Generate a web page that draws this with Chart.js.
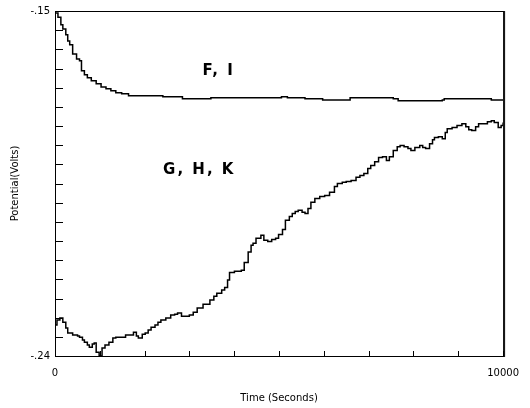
<!DOCTYPE html>
<html>
<head>
<meta charset="utf-8">
<script src="https://cdn.jsdelivr.net/npm/chart.js@4"></script>
<style>
  body { margin: 0; background: #fff; }
  #wrap { width: 530px; height: 408px; }
</style>
</head>
<body>
<div id="wrap"><canvas id="potentialChart"></canvas></div>
<script>
// ➤ Data (time in seconds, potential in volts)
const upperTimes = [0, 66, 131, 175, 241, 284, 328, 394, 481, 547, 591, 656, 722, 810, 919, 1028, 1138, 1247, 1357, 1488, 1641, 2079, 2407, 2779, 2844, 3435, 3479, 4485, 5054, 5186, 5579, 5973, 6520, 6586, 7330, 7549, 7658, 7833, 8643, 8686, 9518, 9737, 10000];
const upperValues = [-0.1505, -0.1516, -0.1536, -0.1547, -0.1562, -0.1578, -0.1588, -0.1612, -0.1625, -0.1630, -0.1656, -0.1666, -0.1674, -0.1682, -0.1690, -0.1698, -0.1703, -0.1708, -0.1713, -0.1716, -0.1721, -0.1721, -0.1724, -0.1724, -0.1729, -0.1729, -0.1726, -0.1726, -0.1724, -0.1726, -0.1729, -0.1732, -0.1732, -0.1726, -0.1726, -0.1729, -0.1734, -0.1734, -0.1732, -0.1729, -0.1729, -0.1732, -0.1732];

const lowerTimes = [0, 44, 109, 175, 241, 284, 394, 503, 547, 613, 656, 722, 766, 832, 875, 919, 985, 1050, 1116, 1204, 1291, 1357, 1488, 1575, 1641, 1751, 1816, 1860, 1947, 2013, 2079, 2144, 2232, 2298, 2363, 2473, 2582, 2670, 2735, 2823, 2888, 2998, 3085, 3173, 3304, 3457, 3545, 3611, 3720, 3786, 3851, 3895, 4004, 4158, 4223, 4311, 4376, 4420, 4486, 4595, 4661, 4748, 4836, 4923, 4989, 5077, 5142, 5230, 5295, 5361, 5427, 5514, 5580, 5646, 5711, 5799, 5908, 6018, 6127, 6236, 6302, 6411, 6499, 6608, 6718, 6805, 6893, 6980, 7046, 7134, 7221, 7309, 7396, 7462, 7549, 7637, 7702, 7790, 7877, 7943, 8031, 8140, 8206, 8271, 8359, 8425, 8468, 8556, 8643, 8709, 8753, 8862, 8972, 9081, 9168, 9234, 9300, 9387, 9453, 9562, 9650, 9737, 9803, 9891, 9956, 10000];
const lowerValues = [-0.2319, -0.2306, -0.2301, -0.2312, -0.2327, -0.2340, -0.2345, -0.2348, -0.2351, -0.2358, -0.2364, -0.2371, -0.2377, -0.2369, -0.2366, -0.2390, -0.2400, -0.2379, -0.2371, -0.2364, -0.2353, -0.2351, -0.2351, -0.2345, -0.2345, -0.2338, -0.2348, -0.2353, -0.2343, -0.2340, -0.2332, -0.2325, -0.2319, -0.2312, -0.2306, -0.2301, -0.2293, -0.2291, -0.2288, -0.2296, -0.2296, -0.2293, -0.2286, -0.2275, -0.2265, -0.2254, -0.2244, -0.2236, -0.2228, -0.2221, -0.2202, -0.2182, -0.2179, -0.2176, -0.2156, -0.2129, -0.2111, -0.2106, -0.2093, -0.2085, -0.2098, -0.2101, -0.2096, -0.2093, -0.2083, -0.2070, -0.2046, -0.2036, -0.2028, -0.2023, -0.2020, -0.2025, -0.2028, -0.2015, -0.1999, -0.1989, -0.1984, -0.1981, -0.1973, -0.1958, -0.1950, -0.1947, -0.1945, -0.1942, -0.1934, -0.1929, -0.1924, -0.1911, -0.1903, -0.1893, -0.1882, -0.1880, -0.1890, -0.1880, -0.1864, -0.1854, -0.1851, -0.1854, -0.1859, -0.1864, -0.1856, -0.1851, -0.1856, -0.1859, -0.1846, -0.1836, -0.1830, -0.1828, -0.1833, -0.1817, -0.1807, -0.1804, -0.1799, -0.1794, -0.1802, -0.1810, -0.1812, -0.1802, -0.1794, -0.1794, -0.1789, -0.1786, -0.1791, -0.1804, -0.1799, -0.1791];

const xTickLabels = ["0", "10000"];
const yTickLabels = ["-.24", "-.15"];

// curve labels: text with the data point they sit on
const curveLabels = [
    { text: "F, I", t: 3650, v: -0.1656 },
    { text: "G, H, K", t: 3220, v: -0.1916 }
];

const toPoints = (ts, vs) => ts.map((t, i) => ({ x: t, y: vs[i] }));

// ➤ Box frame, inward ticks and curve labels
const frameTicks = {
    id: "frameTicks",
    afterDatasetsDraw(chart) {
        const { ctx, chartArea: a, scales: { x, y } } = chart;
        ctx.save();
        ctx.strokeStyle = "#000";
        ctx.lineWidth = 1;
        ctx.strokeRect(a.left + 0.5, a.top + 0.5, a.right - a.left, a.bottom - a.top);
        ctx.beginPath();
        ctx.moveTo(a.right + 1.5, a.top);
        ctx.lineTo(a.right + 1.5, a.bottom + 1);
        y.ticks.forEach(t => {
            const py = Math.round(y.getPixelForValue(t.value)) + 0.5;
            ctx.moveTo(a.left, py);
            ctx.lineTo(a.left + 8, py);
        });
        x.ticks.forEach(t => {
            const px = Math.round(x.getPixelForValue(t.value)) + 0.5;
            ctx.moveTo(px, a.bottom);
            ctx.lineTo(px, a.bottom - 5);
        });
        ctx.stroke();

        ctx.fillStyle = "#000";
        ctx.font = "bold 15px 'DejaVu Sans'";
        ctx.letterSpacing = "2px";
        ctx.textAlign = "center";
        ctx.textBaseline = "middle";
        curveLabels.forEach(l => {
            ctx.fillText(l.text, x.getPixelForValue(l.t), y.getPixelForValue(l.v));
        });
        ctx.restore();
    }
};

const dsStyle = {
    borderColor: "#000",
    borderWidth: 1.5,
    pointRadius: 0,
    stepped: true,
    fill: false
};

new Chart(document.getElementById("potentialChart"), {
    type: "line",
    data: {
        datasets: [
            { label: "F, I", data: toPoints(upperTimes, upperValues), ...dsStyle },
            { label: "G, H, K", data: toPoints(lowerTimes, lowerValues), ...dsStyle }
        ]
    },
    options: {
        responsive: true,
        maintainAspectRatio: false,
        animation: false,
        layout: { padding: { top: 10, right: 18, left: 0, bottom: 0 } },
        plugins: {
            legend: { display: false },
            tooltip: { enabled: false }
        },
        scales: {
            x: {
                type: "linear",
                min: 0,
                max: 10000,
                grid: { display: false, tickLength: 0 },
                border: { display: false },
                ticks: {
                    stepSize: 1000,
                    maxRotation: 0,
                    autoSkip: false,
                    padding: 11,
                    color: "#000",
                    font: { family: "DejaVu Sans", size: 10 },
                    callback: (v, i, ticks) => i === 0 ? xTickLabels[0] : (i === ticks.length - 1 ? xTickLabels[1] : "")
                },
                title: {
                    display: true,
                    text: "Time (Seconds)",
                    color: "#000",
                    font: { family: "DejaVu Sans", size: 10 },
                    padding: { top: 4, bottom: 4 }
                },
                afterFit: s => { s.height = 52; }
            },
            y: {
                type: "linear",
                min: -0.24,
                max: -0.15,
                grid: { display: false, tickLength: 0 },
                border: { display: false },
                ticks: {
                    stepSize: 0.005,
                    autoSkip: false,
                    padding: 5,
                    color: "#000",
                    font: { family: "DejaVu Sans", size: 10 },
                    callback: (v, i, ticks) => i === 0 ? yTickLabels[0] : (i === ticks.length - 1 ? yTickLabels[1] : "")
                },
                title: {
                    display: true,
                    text: "Potential(Volts)",
                    color: "#000",
                    font: { family: "DejaVu Sans", size: 10 },
                    padding: { top: 9, bottom: 0 }
                },
                afterFit: s => { s.width = 55; }
            }
        }
    },
    plugins: [frameTicks]
});
</script>
</body>
</html>
